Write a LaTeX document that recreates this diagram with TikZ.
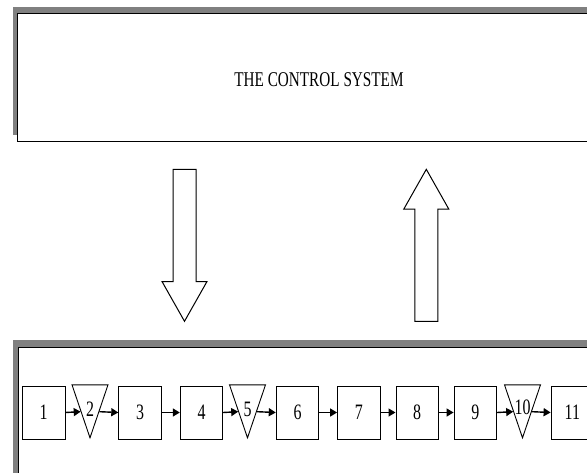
\documentclass[tikz,border=0pt]{standalone}
\usepackage{fontspec}
\setmainfont{Liberation Serif}[FakeStretch=0.725]
\usepackage{tikz}
\usetikzlibrary{arrows.meta,positioning,shapes.geometric,shapes.arrows,shadows}
\definecolor{shade}{HTML}{808080}
% numbers in the triangles sit lower than the text box
\newcommand{\dropnum}[1]{\raisebox{-22pt}[0pt][0pt]{#1}}
\tikzset{
  sysbox/.style={
    draw=black,fill=white,line width=1pt,
    minimum width=620pt,inner sep=0pt,anchor=north west,
    general shadow={fill=shade,shadow xshift=-5pt,shadow yshift=7pt}
  },
  stagebox/.style={
    draw=black,fill=white,line width=.9pt,
    minimum width=42.5pt,minimum height=53pt,inner sep=0pt,
    font=\fontsize{22}{24}\selectfont
  },
  dropbox/.style={
    isosceles triangle,shape border rotate=270,
    isosceles triangle stretches,
    draw=black,fill=white,line width=.9pt,
    minimum width=36pt,minimum height=53pt,inner sep=0pt,
    font=\fontsize{22}{24}\selectfont
  },
  bigarrow/.style={
    single arrow,draw=black,fill=white,line width=1pt,
    minimum height=152pt,minimum width=44pt,inner sep=11pt,
    single arrow head extend=11pt,single arrow tip angle=59
  },
  flow/.style={-{Triangle[length=7pt,width=8pt]},line width=1.4pt}
}
\begin{document}
\begin{tikzpicture}[x=1pt,y=-1pt]
\useasboundingbox (0,0) rectangle (587,472);

\node[sysbox,minimum height=128pt] (ctrl) at (17,13) {};
\node[font=\fontsize{21}{24}\selectfont] (title) at (319,80) {THE CONTROL SYSTEM};

\node[bigarrow,shape border rotate=270,anchor=tip] (cmd) at (184.5,322.3) {};
\node[bigarrow,shape border rotate=90,anchor=tip] (fb) at (426.3,168.3) {};

\node[sysbox,minimum height=200pt] (plant) at (17.5,346.5) {};

% process stages
\node[stagebox] (s1) at (43.7,412.5) {1};
\node[dropbox,anchor=apex] (s2) at (90,439) {\dropnum{2}};
\node[stagebox] (s3) at (140,412.5) {3};
\node[stagebox] (s4) at (201.5,412.5) {4};
\node[dropbox,anchor=apex] (s5) at (247.5,439) {\dropnum{5}};
\node[stagebox] (s6) at (297.5,412.5) {6};
\node[stagebox] (s7) at (358.8,412.5) {7};
\node[stagebox] (s8) at (417.2,412.5) {8};
\node[stagebox] (s9) at (475.3,412.5) {9};
\node[dropbox,anchor=apex] (s10) at (522.5,439) {\dropnum{10}};
\node[stagebox] (s11) at (572.3,412.5) {11};

\draw[flow] (s1.east) -- (s2.right side);
\draw[flow] (s2.left side) -- (s3.west);
\draw[flow] (s3.east) -- (s4.west);
\draw[flow] (s4.east) -- (s5.right side);
\draw[flow] (s5.left side) -- (s6.west);
\draw[flow] (s6.east) -- (s7.west);
\draw[flow] (s7.east) -- (s8.west);
\draw[flow] (s8.east) -- (s9.west);
\draw[flow] (s9.east) -- (s10.right side);
\draw[flow] (s10.left side) -- (s11.west);
\end{tikzpicture}
\end{document}
